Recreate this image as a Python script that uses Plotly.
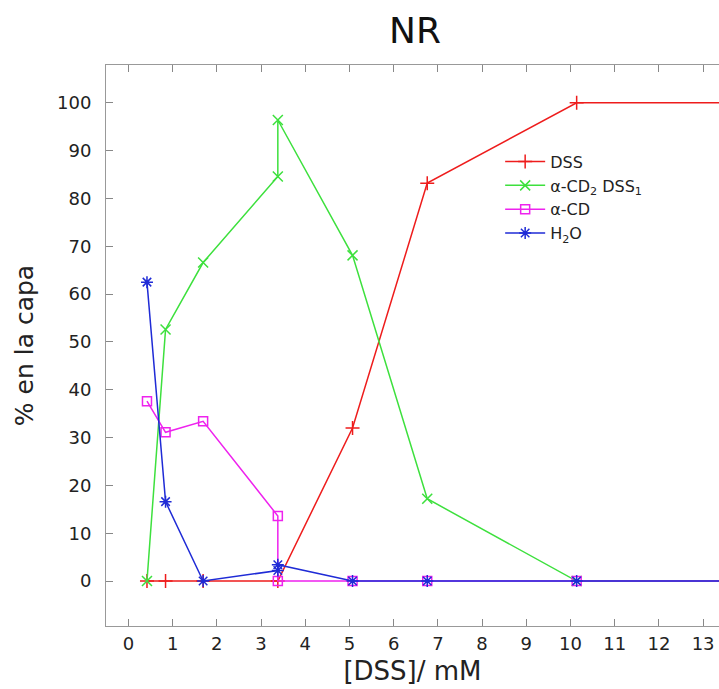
import plotly.graph_objects as go

# concentrations [DSS] / mM
dss_x = [0.42, 0.84, 1.69, 3.38, 5.07, 6.76, 10.14, 13.52]
dss_y = [0, 0, 0, 0, 32, 83.2, 100, 100]

cd2_x = [0.42, 0.84, 1.69, 3.38, 3.38, 5.07, 6.76, 10.14, 13.52]
cd2_y = [0, 52.6, 66.6, 84.6, 96.4, 68.1, 17.2, 0, 0]

cd_x = [0.42, 0.84, 1.69, 3.38, 3.38, 5.07, 6.76, 10.14, 13.52]
cd_y = [37.6, 31.1, 33.4, 13.6, 0, 0, 0, 0, 0]

h2o_x = [0.42, 0.84, 1.69, 3.38, 3.38, 5.07, 6.76, 10.14, 13.52]
h2o_y = [62.5, 16.6, 0, 2.2, 3.4, 0, 0, 0, 0]

names = ["DSS", "α-CD<sub>2</sub> DSS<sub>1</sub>", "α-CD", "H<sub>2</sub>O"]
colors = ["#ee1c1c", "#3de03d", "#ee22ee", "#1f2bd6"]
symbols = ["cross-thin", "x-thin", "square-open", "asterisk"]
sizes = [10, 10, 9, 10]

x_ticks = list(range(0, 14))
y_ticks = list(range(0, 101, 10))

fig = go.Figure()
for xs, ys, nm, c, s, sz in zip([dss_x, cd2_x, cd_x, h2o_x], [dss_y, cd2_y, cd_y, h2o_y],
                                names, colors, symbols, sizes):
    fig.add_trace(go.Scatter(
        x=xs, y=ys, name=nm, mode="lines+markers",
        line=dict(color=c, width=1.5),
        marker=dict(symbol=s, size=sz, color=c, line=dict(color=c, width=1.5)),
    ))

W, H = 719, 689
fig.update_layout(
    width=W, height=H,
    paper_bgcolor="white", plot_bgcolor="white",
    margin=dict(l=106, r=0, t=65, b=63),
    font=dict(family="DejaVu Sans", color="#222222", size=18),
    title=dict(text="NR", x=415/W, xref="container", xanchor="center",
               y=1 - 30/H, yanchor="middle", font=dict(size=36, color="#111111")),
    showlegend=True,
    legend=dict(x=0.643, y=0.858, xanchor="left", yanchor="top",
                bgcolor="rgba(0,0,0,0)", font=dict(size=16, color="#222222"),
                tracegroupgap=0, itemwidth=40),
    xaxis=dict(range=[-0.507, 13.36], tickvals=x_ticks, ticks="inside", ticklen=7,
               tickcolor="#888888", showline=True, linecolor="#999999", linewidth=1,
               mirror="ticks", showgrid=False, zeroline=False, ticklabelstandoff=1,
               title=dict(text="[DSS]/ mM", font=dict(size=26), standoff=9)),
    yaxis=dict(range=[-9.4, 107.9], tickvals=y_ticks, ticks="inside", ticklen=7,
               tickcolor="#888888", showline=True, linecolor="#999999", linewidth=1,
               showgrid=False, zeroline=False, ticklabelstandoff=10,
               title=dict(text="% en la capa", font=dict(size=25), standoff=16)),
)

fig.write_html("out.html",
               config={"displayModeBar": False},
               post_script="document.body.style.margin='0';"
                           "document.body.style.overflow='hidden';")
